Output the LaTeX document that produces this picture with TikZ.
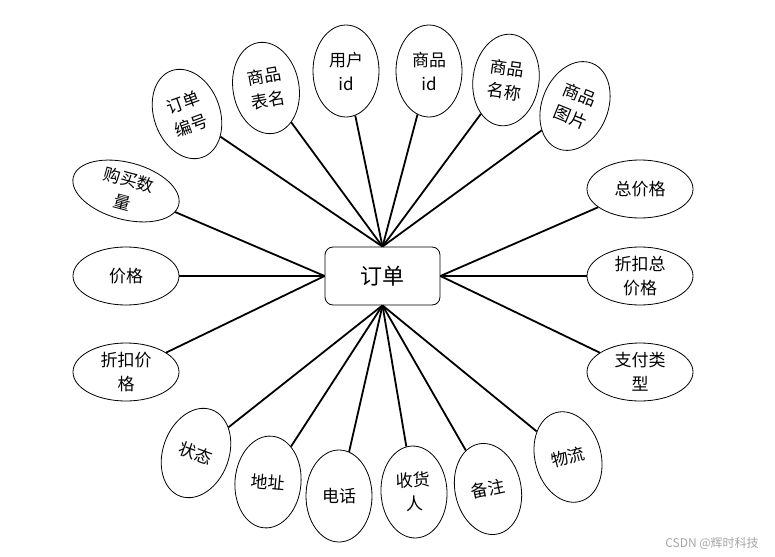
\documentclass[tikz,border=0pt]{standalone}
\usepackage{fontspec}
\setmainfont{Noto Sans CJK SC}
\usetikzlibrary{shapes.geometric}

\newcommand{\attrfont}{\fontsize{17}{24}\selectfont}
\newcommand{\entfont}{\fontsize{22}{26}\selectfont}

\tikzset{
    attr/.style={ellipse, draw, line width=0.8pt, fill=white, inner sep=0pt,
        minimum width=66pt, minimum height=92pt, align=center, font=\attrfont},
    wideattr/.style={attr, minimum width=106pt, minimum height=58pt},
    entity/.style={rectangle, draw, line width=0.8pt, rounded corners=8pt, fill=white,
        minimum width=115pt, minimum height=58pt, font=\entfont},
    link/.style={line width=1.8pt}
}

\begin{document}
\begin{tikzpicture}[x=1pt,y=-1pt]
    \useasboundingbox (0,0) rectangle (775,556);

        % entity in the middle
        \node[entity] (dd) at (382.5,276) {订单};

        % attributes above
        \node[attr, rotate=20] (ddbh) at (187,114) {订单\\编号};
        \node[attr, rotate=10] (spbm) at (266,88) {商品\\表名};
        \node[attr] (yhid) at (346,71) {用户\\id};
        \node[attr] (spid) at (429,71) {商品\\id};
        \node[attr, rotate=-8] (spmc) at (506,80) {商品\\名称};
        \node[attr, rotate=-22] (sptp) at (575,106) {商品\\图片};

        % attributes on the left
        \node[wideattr, rotate=-15, minimum width=109pt, minimum height=57pt] (gmsl) at (126,191) {购买数\\量};
        \node[wideattr] (jg) at (126,276) {价格};
        \node[wideattr] (zkjg) at (126,372) {折扣价\\格};

        % attributes on the right
        \node[wideattr] (zjg) at (640,189) {总价格};
        \node[wideattr] (zkzjg) at (640,276) {折扣总\\价格};
        \node[wideattr] (zflx) at (640,372) {支付类\\型};

        % attributes below
        \node[attr, rotate=-20] (zt) at (196,453) {状态};
        \node[attr, rotate=-5] (dz) at (268,482) {地址};
        \node[attr] (dh) at (339,496) {电话};
        \node[attr, rotate=3] (shr) at (414,492) {收货\\人};
        \node[attr, rotate=12] (bz) at (488,489) {备注};
        \node[attr, rotate=15] (wl) at (568,457) {物流};

        % connectors
        \foreach \a in {ddbh,spbm,yhid,spid,spmc,sptp}
            \draw[link] (\a) -- (dd.north);
        \foreach \a in {gmsl,jg,zkjg}
            \draw[link] (\a) -- (dd.west);
        \foreach \a in {zjg,zkzjg,zflx}
            \draw[link] (\a) -- (dd.east);
        \foreach \a in {zt,dz,dh,shr,bz,wl}
            \draw[link] (\a) -- (dd.south);

        \node[text=black!35, font=\fontsize{12}{14}\selectfont] (mark) at (712,543) {CSDN @辉时科技};

\end{tikzpicture}
\end{document}
